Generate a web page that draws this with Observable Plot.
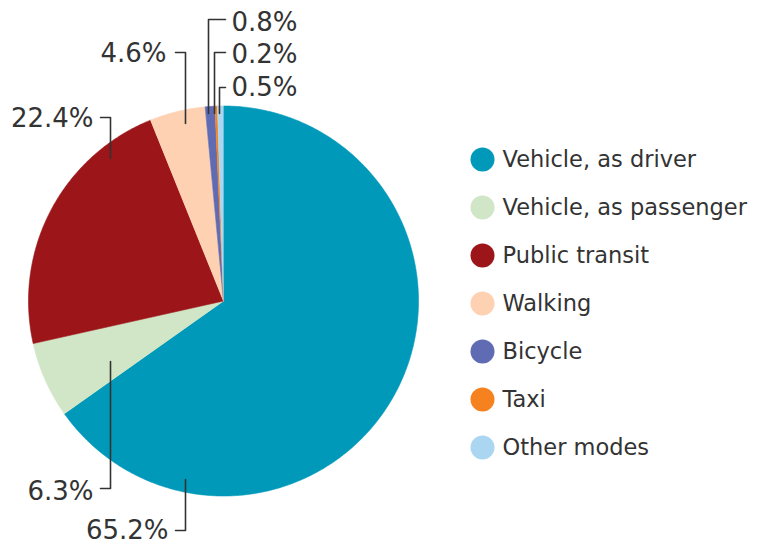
<!DOCTYPE html>
<html>
<head>
<meta charset="utf-8">
<script src="https://cdn.jsdelivr.net/npm/d3@7"></script>
<script src="https://cdn.jsdelivr.net/npm/@observablehq/plot@0.6"></script>
<style>
  html, body { margin: 0; padding: 0; background: #fff; }
  svg { display: block; }
</style>
</head>
<body>
<div id="chart"></div>
<script>
// ---- data ----
const categories = ["Vehicle, as driver", "Vehicle, as passenger", "Public transit", "Walking", "Bicycle", "Taxi", "Other modes"];
const shares = [65.2, 6.3, 22.4, 4.6, 0.8, 0.2, 0.5];
const colors = ["#0099b9", "#d0e6c6", "#9b1519", "#fdd1b2", "#5f6bb3", "#f5821f", "#aad6f2"];

// ---- layout (pixel positions, not data) ----
const W = 758, H = 544;
const cx = 223, cy = 300.5, R = 195;
const labelLayout = [
  {tx: 168, ty: 538, anchor: "end",   line: [[175, 530], [185, 530], [185, 479]]},
  {tx: 93,  ty: 499, anchor: "end",   line: [[100, 488], [110, 488], [110, 361]]},
  {tx: 93,  ty: 126, anchor: "end",   line: [[100, 117], [110, 117], [110, 158]]},
  {tx: 166, ty: 61,  anchor: "end",   line: [[175, 52], [185, 52], [185, 123]]},
  {tx: 231, ty: 30,  anchor: "start", line: [[225, 19], [208, 19], [208, 113]]},
  {tx: 231, ty: 62,  anchor: "start", line: [[225, 52], [214, 52], [214, 113]]},
  {tx: 231, ty: 95,  anchor: "start", line: [[225, 87], [219, 87], [219, 113]]}
];
const legendX = 482, legendY0 = 159, legendStep = 48;

// ---- build pie polygons from data ----
const data = categories.map((name, i) => ({name, value: shares[i]}));
const arcs = d3.pie().sort(null).value(d => d.value).startAngle(0).endAngle(2 * Math.PI)(data);
const slicePts = [];
for (const a of arcs) {
  const name = a.data.name;
  slicePts.push({name, x: cx, y: cy});
  const n = Math.max(2, Math.ceil((a.endAngle - a.startAngle) / 0.01));
  for (let k = 0; k <= n; k++) {
    const t = a.startAngle + (a.endAngle - a.startAngle) * k / n;
    slicePts.push({name, x: cx + R * Math.sin(t), y: cy - R * Math.cos(t)});
  }
}

const labels = data.map((d, i) => ({
  name: d.name,
  text: d.value.toFixed(1) + "%",
  x: labelLayout[i].tx, y: labelLayout[i].ty, anchor: labelLayout[i].anchor
}));
const leaderPts = labelLayout.flatMap((l, i) => l.line.map(([x, y]) => ({name: categories[i], x, y})));
const legend = categories.map((name, i) => ({name, x: legendX, y: legendY0 + i * legendStep}));

const font = "'DejaVu Sans', sans-serif";
const plot = Plot.plot({
  width: W, height: H,
  margin: 0,
  x: {domain: [0, W], range: [0, W], axis: null},
  y: {domain: [0, H], range: [0, H], axis: null},
  color: {domain: categories, range: colors},
  style: {fontFamily: font},
  marks: [
    Plot.line(slicePts, {x: "x", y: "y", z: "name", fill: "name", stroke: "name", strokeWidth: 0.6, curve: "linear"}),
    Plot.line(leaderPts, {x: "x", y: "y", z: "name", stroke: "#333", strokeWidth: 1.6, curve: "linear"}),
    Plot.text(labels.filter(d => d.anchor === "end"), {x: "x", y: "y", text: "text", textAnchor: "end", lineAnchor: "bottom", fontSize: 26, fill: "#333"}),
    Plot.text(labels.filter(d => d.anchor === "start"), {x: "x", y: "y", text: "text", textAnchor: "start", lineAnchor: "bottom", fontSize: 26, fill: "#333"}),
    Plot.dot(legend, {x: "x", y: "y", r: 12, fill: "name", stroke: null}),
    Plot.text(legend, {x: d => d.x + 20, y: "y", text: "name", textAnchor: "start", lineAnchor: "middle", fontSize: 22.5, fill: "#333"})
  ]
});
document.getElementById("chart").appendChild(plot);
</script>
</body>
</html>
